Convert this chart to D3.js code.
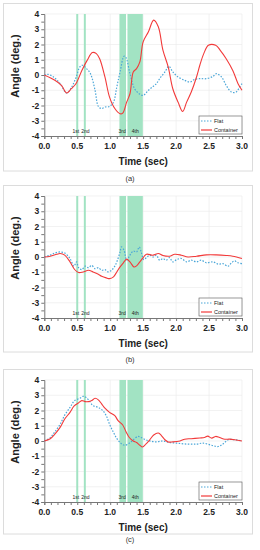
<!DOCTYPE html>
<html lang="en">
<head>
<meta charset="UTF-8">
<title>Roll angle</title>
<style>
  body { margin: 0; padding: 0; background: #ffffff; }
  svg { display: block; font-family: "Liberation Sans", Arial, sans-serif; }
</style>
</head>
<body>
<div id="chart"></div>
<script src="https://d3js.org/d3.v7.min.js"></script>
<script>
// excitation windows (sec) and their labels
const bands = [[0.485, 0.515], [0.6, 0.63], [1.14, 1.24], [1.262, 1.495]];
const bandLabels = ["1st", "2nd", "3rd", "4th"];
const bandLabelX = [0.48, 0.625, 1.18, 1.38];
const xTicks = [0, 0.5, 1, 1.5, 2, 2.5, 3];
const yTicks = [-4, -3, -2, -1, 0, 1, 2, 3, 4];
const seriesNames = ["Flat", "Container"];

// (a) [time, angle]
const flatA = [[0,0],[0.06,0.04],[0.14,-0.13],[0.24,-0.57],[0.34,-1.18],[0.41,-0.83],[0.48,-0.18],[0.54,0.53],[0.58,0.64],[0.64,0.42],[0.7,0.09],[0.77,-1.0],[0.82,-2.06],[0.87,-2.2],[0.92,-2.1],[0.99,-2.06],[1.05,-1.78],[1.1,-0.79],[1.15,0.2],[1.21,1.23],[1.24,1.14],[1.3,0.09],[1.37,-0.9],[1.44,-1.23],[1.5,-1.34],[1.58,-1.0],[1.65,-0.75],[1.7,-0.57],[1.75,-0.24],[1.83,0.2],[1.89,0.57],[1.95,0.2],[2.03,-0.13],[2.13,-0.35],[2.21,-0.46],[2.28,-0.29],[2.36,-0.24],[2.46,-0.24],[2.56,-0.09],[2.61,0.09],[2.69,-0.13],[2.76,-0.68],[2.84,-1.12],[2.91,-1.12],[2.96,-0.83],[3.0,-0.57]];
const contA = [[0,0],[0.16,-0.35],[0.26,-0.68],[0.34,-1.18],[0.41,-0.9],[0.48,-0.57],[0.57,0.3],[0.65,0.96],[0.73,1.47],[0.79,1.4],[0.84,1.07],[0.92,-0.13],[0.99,-1.45],[1.07,-2.2],[1.15,-2.54],[1.19,-2.5],[1.25,-1.78],[1.3,-1.23],[1.35,0.2],[1.4,0.42],[1.45,0.86],[1.5,2.17],[1.58,2.83],[1.66,3.6],[1.73,3.16],[1.8,1.63],[1.88,0.53],[1.95,-0.9],[2.03,-1.78],[2.1,-2.39],[2.16,-1.78],[2.23,-1.12],[2.31,-0.13],[2.36,0.64],[2.42,1.4],[2.49,1.95],[2.6,1.95],[2.67,1.62],[2.76,1.07],[2.86,0.3],[2.94,-0.57],[3.0,-1.0]];

// (b)
const flatB = [[0,0],[0.09,0.12],[0.16,0.26],[0.24,0.33],[0.31,0.26],[0.39,-0.1],[0.45,-0.6],[0.49,-0.32],[0.52,-0.7],[0.57,-0.83],[0.62,-0.6],[0.67,-0.7],[0.72,-0.55],[0.77,-0.77],[0.82,-0.7],[0.87,-0.87],[0.92,-0.83],[0.97,-0.98],[1.02,-0.87],[1.07,-0.6],[1.11,-0.21],[1.15,0.33],[1.17,0.66],[1.21,0.44],[1.25,-0.21],[1.3,0.12],[1.35,0.39],[1.4,0.33],[1.44,0.66],[1.47,0.33],[1.51,-0.17],[1.55,-0.04],[1.6,0.12],[1.65,0],[1.7,0.12],[1.75,-0.21],[1.8,-0.1],[1.85,-0.21],[1.9,-0.04],[1.95,-0.32],[2.01,-0.17],[2.08,-0.1],[2.16,-0.32],[2.23,-0.21],[2.31,-0.32],[2.38,-0.21],[2.46,-0.38],[2.56,-0.32],[2.64,-0.47],[2.71,-0.43],[2.79,-0.6],[2.84,-0.38],[2.89,-0.26],[2.94,-0.38],[3.0,-0.43]];
const contB = [[0,0],[0.09,0.05],[0.19,0.18],[0.24,0.23],[0.31,0.12],[0.39,-0.32],[0.46,-0.82],[0.52,-1.02],[0.59,-0.98],[0.67,-0.87],[0.74,-0.98],[0.82,-1.13],[0.87,-1.26],[0.94,-1.37],[0.99,-1.42],[1.05,-1.3],[1.1,-0.98],[1.15,-0.65],[1.2,-0.38],[1.25,-0.14],[1.3,-0.32],[1.36,-0.65],[1.4,-0.58],[1.45,-0.32],[1.5,-0.04],[1.55,0.18],[1.65,0.12],[1.73,0.23],[1.8,0.1],[1.9,0.05],[1.98,0.18],[2.08,0.12],[2.18,0],[2.31,0.05],[2.46,0.14],[2.61,0.14],[2.76,0.1],[2.86,0.05],[3.0,-0.1]];

// (c)
const flatC = [[0,0],[0.09,0.22],[0.16,0.6],[0.24,1.1],[0.31,1.7],[0.39,2.2],[0.46,2.65],[0.54,2.8],[0.59,2.93],[0.63,2.87],[0.68,2.65],[0.74,2.32],[0.82,2.2],[0.89,1.98],[0.94,1.66],[0.99,1.1],[1.05,0.56],[1.1,0.17],[1.16,-0.14],[1.22,-0.28],[1.29,-0.14],[1.35,0.08],[1.42,0.3],[1.47,0.23],[1.54,0.08],[1.6,0],[1.7,-0.06],[1.8,0],[1.9,-0.1],[2.01,-0.14],[2.16,-0.2],[2.31,-0.2],[2.41,-0.14],[2.54,-0.28],[2.64,-0.36],[2.71,-0.2],[2.79,0.08],[2.89,0.08],[3.0,0]];
const contC = [[0,0],[0.09,0.15],[0.16,0.45],[0.24,0.89],[0.31,1.44],[0.39,1.88],[0.45,2.28],[0.52,2.5],[0.57,2.65],[0.62,2.58],[0.67,2.58],[0.72,2.65],[0.77,2.8],[0.82,2.7],[0.87,2.43],[0.92,2.15],[0.99,1.88],[1.07,1.66],[1.12,1.33],[1.19,1.05],[1.24,0.61],[1.29,0.23],[1.35,0],[1.4,-0.1],[1.45,-0.28],[1.49,-0.39],[1.54,-0.21],[1.6,0.08],[1.66,0.39],[1.73,0.52],[1.78,0.34],[1.83,0.08],[1.88,-0.06],[1.95,-0.06],[2.06,0],[2.13,0.12],[2.23,0.15],[2.36,0.2],[2.43,0.23],[2.48,0.32],[2.54,0.19],[2.6,0.3],[2.66,0.23],[2.74,0.12],[2.81,0.12],[2.89,0.08],[3.0,0]];

const W = 260, H = 550;
const blue = "#4aa6d8", red = "#f23a3a", band = "#a2e3c3";

const svg = d3.select("#chart").append("svg")
    .attr("width", W)
    .attr("height", H);

const panels = [
    {caption: "(a)", top: 14, flat: flatA, cont: contA, frameGap: 35, capGap: 45},
    {caption: "(b)", top: 196, flat: flatB, cont: contB, frameGap: 34, capGap: 44},
    {caption: "(c)", top: 380, flat: flatC, cont: contC, frameGap: 32, capGap: 40}
];

const left = 44.3, right = 242, ph = 122;
const x = d3.scaleLinear().domain([0, 3]).range([left, right]);

panels.forEach(p => {
    const g = svg.append("g");
    const y = d3.scaleLinear().domain([-4, 4]).range([p.top + ph, p.top]);
    const bottom = p.top + ph;

    // panel frame
    g.append("rect")
        .attr("x", 3.5).attr("y", p.top - 10.5)
        .attr("width", 249).attr("height", bottom + p.frameGap - (p.top - 10.5))
        .attr("fill", "none").attr("stroke", "#dcdcdc");

    // grid
    g.append("g").selectAll("line").data(yTicks.filter(d => d > -4))
        .enter().append("line")
        .attr("x1", left).attr("x2", right)
        .attr("y1", d => y(d)).attr("y2", d => y(d))
        .attr("stroke", "#ececec").attr("stroke-width", 0.7);
    g.append("g").selectAll("line").data(xTicks.filter(d => d > 0))
        .enter().append("line")
        .attr("x1", d => x(d)).attr("x2", d => x(d))
        .attr("y1", p.top).attr("y2", bottom)
        .attr("stroke", "#ececec").attr("stroke-width", 0.7);

    // excitation bands
    g.append("g").selectAll("rect").data(bands)
        .enter().append("rect")
        .attr("x", d => x(d[0]))
        .attr("width", d => x(d[1]) - x(d[0]))
        .attr("y", p.top).attr("height", ph)
        .attr("fill", band);

    g.append("g").selectAll("text").data(bandLabels)
        .enter().append("text")
        .attr("x", (d, i) => x(bandLabelX[i]))
        .attr("y", bottom - 3)
        .attr("text-anchor", "middle")
        .attr("font-size", 5)
        .attr("fill", "#222")
        .text(d => d);

    // axes
    const yAxis = d3.axisLeft(y).tickValues(d3.range(-4, 4.01, 0.5)).tickSize(3).tickFormat("");
    g.append("g").attr("transform", `translate(${left},0)`).call(yAxis)
        .call(a => a.selectAll("line, path").attr("stroke", "#777"));
    const xAxis = d3.axisBottom(x).tickValues(d3.range(0, 3.01, 0.1)).tickSize(3).tickFormat("");
    g.append("g").attr("transform", `translate(0,${bottom})`).call(xAxis)
        .call(a => a.selectAll("line, path").attr("stroke", "#777"));

    g.append("g").selectAll("text").data(yTicks)
        .enter().append("text")
        .attr("x", left - 5)
        .attr("y", d => y(d) + 3)
        .attr("text-anchor", "end")
        .attr("font-size", 8.5).attr("font-weight", "bold")
        .attr("fill", "#222")
        .text(d => d);
    g.append("g").selectAll("text").data(xTicks)
        .enter().append("text")
        .attr("x", d => x(d))
        .attr("y", bottom + 13)
        .attr("text-anchor", "middle")
        .attr("font-size", 8.5).attr("font-weight", "bold")
        .attr("fill", "#222")
        .text(d => d.toFixed(1));

    g.append("text")
        .attr("x", (left + right) / 2)
        .attr("y", bottom + 29)
        .attr("text-anchor", "middle")
        .attr("font-size", 10).attr("font-weight", "bold")
        .attr("fill", "#222")
        .text("Time (sec)");
    g.append("text")
        .attr("transform", `translate(15,${p.top + 52}) rotate(-90)`)
        .attr("text-anchor", "middle")
        .attr("dy", "0.35em")
        .attr("font-size", 11).attr("font-weight", "bold")
        .attr("fill", "#222")
        .text("Angle (deg.)");

    g.append("text")
        .attr("x", W / 2)
        .attr("y", bottom + p.capGap)
        .attr("text-anchor", "middle")
        .attr("font-size", 7.5)
        .attr("fill", "#333")
        .text(p.caption);

    // series
    const line = d3.line()
        .x(d => x(d[0])).y(d => y(d[1]))
        .curve(d3.curveCatmullRom);
    g.append("path").datum(p.flat)
        .attr("d", line)
        .attr("fill", "none").attr("stroke", blue)
        .attr("stroke-width", 1.2).attr("stroke-dasharray", "1.5,1.5");
    g.append("path").datum(p.cont)
        .attr("d", line)
        .attr("fill", "none").attr("stroke", red)
        .attr("stroke-width", 1.1);

    // legend
    const lg = g.append("g").attr("transform", `translate(199,${p.top + 102})`);
    lg.append("rect").attr("width", 43).attr("height", 18)
        .attr("fill", "#fff").attr("stroke", "#555").attr("stroke-width", 0.6);
    seriesNames.forEach((name, i) => {
        const yy = 5 + i * 9;
        lg.append("line")
            .attr("x1", 2).attr("x2", 13).attr("y1", yy).attr("y2", yy)
            .attr("stroke", i ? red : blue).attr("stroke-width", 1.2)
            .attr("stroke-dasharray", i ? null : "1.5,1.5");
        lg.append("text")
            .attr("x", 15).attr("y", yy + 2)
            .attr("font-size", 5.5).attr("fill", "#222")
            .text(name);
    });
});
</script>
</body>
</html>
